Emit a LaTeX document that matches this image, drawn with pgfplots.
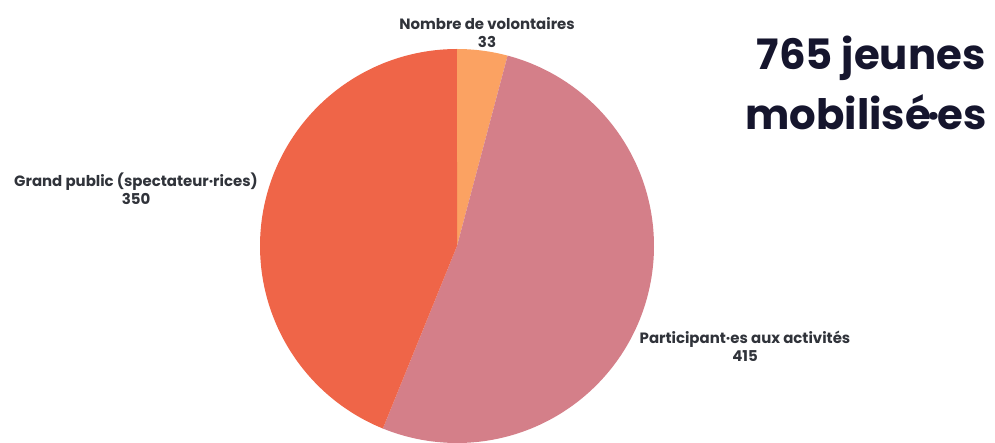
\documentclass[border=0pt]{standalone}
\usepackage{fontspec}
\setmainfont{Poppins}
\usepackage{pgfplots}
\pgfplotsset{compat=1.18}
\definecolor{cVol}{HTML}{FBA262}
\definecolor{cPart}{HTML}{D47F89}
\definecolor{cPub}{HTML}{EF6548}
\definecolor{cLab}{HTML}{30333A}
\definecolor{cTit}{HTML}{15152D}
\begin{document}
\begin{tikzpicture}
\def\vVol{33}
\def\vPart{415}
\def\vPub{350}
\pgfmathsetmacro\tot{\vVol+\vPart+\vPub}
\pgfmathsetmacro\aA{90}
\pgfmathsetmacro\aB{90-360*(\vVol/\tot)}
\pgfmathsetmacro\aC{\aB-360*(\vPart/\tot)}
\pgfmathsetmacro\aD{\aC-360*(\vPub/\tot)}
\begin{axis}[
  width=995bp, height=443bp, scale only axis,
  xmin=0, xmax=995, ymin=0, ymax=443,
  hide axis, clip=false,
]
\path (rel axis cs:0,0) rectangle (rel axis cs:1,1);
\addplot[fill=cVol, draw=none, domain=\aB:\aA, samples=40]
  ({457+197*cos(x)},{197+197*sin(x)}) -- (axis cs:457,197) -- cycle;
\addplot[fill=cPart, draw=none, domain=\aC:\aB, samples=150]
  ({457+197*cos(x)},{197+197*sin(x)}) -- (axis cs:457,197) -- cycle;
\addplot[fill=cPub, draw=none, domain=\aD:\aC, samples=150]
  ({457+197*cos(x)},{197+197*sin(x)}) -- (axis cs:457,197) -- cycle;
\node[align=center, font=\fontsize{15}{18}\selectfont\bfseries, text=cLab] at (axis cs:487,410) {Nombre de volontaires\\33};
\node[align=center, font=\fontsize{15}{18}\selectfont\bfseries, text=cLab] at (axis cs:136,254) {Grand public (spectateur·rices)\\350};
\node[align=center, font=\fontsize{15}{18}\selectfont\bfseries, text=cLab] at (axis cs:745,97) {Participant·es aux activités\\415};
\node[anchor=base, inner sep=0pt, font=\fontsize{42}{57}\selectfont\bfseries, text=cTit] at (axis cs:871,373) {765 jeunes};
\node[anchor=base, inner sep=0pt, font=\fontsize{42}{57}\selectfont\bfseries, text=cTit] at (axis cs:866,313) {mobilisé\kern-3pt·\kern-3pt es};
\end{axis}
\end{tikzpicture}
\end{document}
